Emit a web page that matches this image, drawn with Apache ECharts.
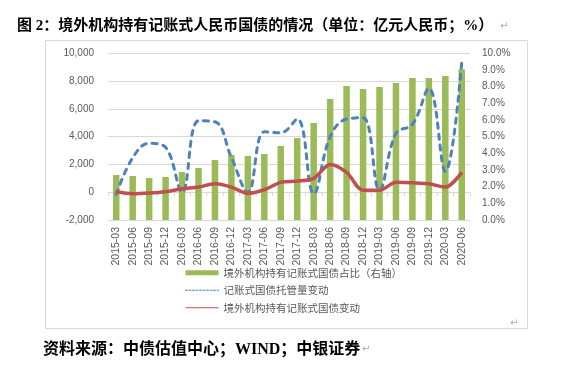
<!DOCTYPE html>
<html>
<head>
<meta charset="utf-8">
<script src="https://cdn.jsdelivr.net/npm/echarts@6/dist/echarts.min.js"></script>
<style>
html,body{margin:0;padding:0;background:#fff;}
#c{width:574px;height:371px;}
</style>
</head>
<body>
<div id="c"></div>
<script>
const categories = ['2015-03','2015-06','2015-09','2015-12','2016-03','2016-06','2016-09','2016-12','2017-03','2017-06','2017-09','2017-12','2018-03','2018-06','2018-09','2018-12','2019-03','2019-06','2019-09','2019-12','2020-03','2020-06'];
const foreignShare = [2.70,2.64,2.52,2.58,2.88,3.12,3.60,3.90,3.84,3.96,4.44,4.92,5.82,7.26,8.04,7.86,7.98,8.22,8.52,8.52,8.64,9.04];
const custodyChange = [-150,2480,3520,3230,0,5140,5070,2500,0,4350,4280,5270,-100,3990,5270,5360,160,4240,4880,7470,1500,9390];
const foreignChange = [50,-110,-60,40,250,370,610,370,-80,180,710,800,1000,2000,1430,140,140,710,680,610,370,1430];
const leftTicks = {min:-2000, max:10000, interval:2000};
const rightTicks = {min:0, max:10, interval:1};
const seriesNames = ['境外机构持有记账式国债占比（右轴）','记账式国债托管量变动','境外机构持有记账式国债变动'];
const titleText = '图 2：境外机构持有记账式人民币国债的情况（单位：亿元人民币；%）';
const sourceText = '资料来源：中债估值中心；WIND；中银证券';

const chart = echarts.init(document.getElementById('c'), null, {renderer:'canvas'});
const axisFont = 'Liberation Sans, Arial, sans-serif';
const cjkFont = '"Noto Sans CJK SC", sans-serif';
chart.setOption({
  animation:false,
  backgroundColor:'#fff',
  grid:{left:108, right:104, top:53.3, bottom:151},
  graphic:[
    {type:'rect', shape:{x:45.5,y:40.5,width:482,height:288}, style:{fill:'none',stroke:'#d9d9d9',lineWidth:1}, z:-1},
    {type:'text', left:17, top:19, style:{text:titleText, font:'bold 15px "Liberation Serif", "Noto Sans CJK SC", serif', fill:'#000'}},
    {type:'text', left:500, top:21, style:{text:'↵', font:'10px "DejaVu Sans"', fill:'#aaa'}},
    {type:'text', left:43, top:342, style:{text:sourceText, font:'bold 16px "Liberation Serif", "Noto Sans CJK SC", serif', fill:'#000'}},
    {type:'text', left:362, top:344, style:{text:'↵', font:'10px "DejaVu Sans"', fill:'#aaa'}},
    {type:'text', left:510, top:318, style:{text:'↵', font:'10px "DejaVu Sans"', fill:'#aaa'}}
  ],
  legend:{
    orient:'vertical', left:180, top:262.5, itemWidth:33, itemHeight:5, itemGap:7,
    textStyle:{fontSize:10.5, color:'#595959', fontFamily:cjkFont},
    data:[
      {name:seriesNames[0], icon:'rect'},
      {name:seriesNames[1], lineStyle:{width:1, type:[2,1.5]}, itemStyle:{opacity:0}},
      {name:seriesNames[2], lineStyle:{width:1}, itemStyle:{opacity:0}}
    ]
  },
  xAxis:{
    type:'category', data:categories, boundaryGap:true,
    axisLine:{onZero:true, onZeroAxisIndex:0, lineStyle:{color:'#d9d9d9'}},
    axisTick:{show:true, length:4, lineStyle:{color:'#d9d9d9'}},
    axisLabel:{rotate:90, fontSize:10.5, color:'#595959', fontFamily:axisFont, margin:7, interval:0},
    splitLine:{show:false}
  },
  yAxis:[
    {type:'value', min:leftTicks.min, max:leftTicks.max, interval:leftTicks.interval,
     axisLine:{show:false}, axisTick:{show:false},
     axisLabel:{fontSize:10, color:'#595959', fontFamily:axisFont, margin:14,
       formatter:v=>v.toLocaleString('en-US')},
     splitLine:{lineStyle:{color:'#d9d9d9'}}},
    {type:'value', min:rightTicks.min, max:rightTicks.max, interval:rightTicks.interval, position:'right',
     axisLine:{show:false}, axisTick:{show:false},
     axisLabel:{fontSize:10, color:'#595959', fontFamily:axisFont, margin:12,
       formatter:v=>v.toFixed(1)+'%'},
     splitLine:{show:false}}
  ],
  series:[
    {name:seriesNames[0], type:'bar', yAxisIndex:1, data:foreignShare, barWidth:6.5,
     itemStyle:{color:'#9BBB59'}, z:1},
    {name:seriesNames[1], type:'line', yAxisIndex:0, data:custodyChange, smooth:0.4, symbol:'none',
     lineStyle:{color:'#4F81BD', width:3, type:[5,6], cap:'round'}, itemStyle:{color:'#4F81BD'}, z:3},
    {name:seriesNames[2], type:'line', yAxisIndex:0, data:foreignChange, smooth:0.3, symbol:'none',
     lineStyle:{color:'#C0504D', width:3.5}, itemStyle:{color:'#C0504D'}, z:4}
  ]
});
</script>
</body>
</html>
